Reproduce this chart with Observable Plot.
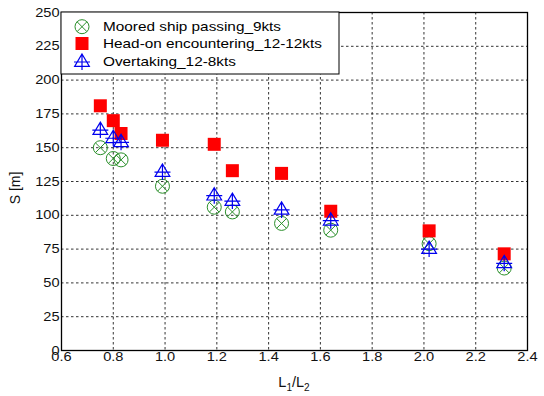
<!DOCTYPE html>
<html>
<head>
<meta charset="utf-8">
<script src="https://cdn.jsdelivr.net/npm/d3@7"></script>
<script src="https://cdn.jsdelivr.net/npm/@observablehq/plot@0.6"></script>
<style>
  body { margin: 0; background: #fff; }
  #chart { width: 544px; height: 396px; }
</style>
</head>
<body>
<div id="chart"></div>
<script>
// ---- data ----
const ratio = [0.75, 0.80, 0.83, 0.99, 1.19, 1.26, 1.45, 1.64, 2.02, 2.31];
const moored = [150, 142, 141, 121.5, 106, 102.5, 94, 89, 79, 61];
const headOn = [181, 170, 160.5, 155.5, 152.5, 133, 131, 103, 88.5, 71.5];
const overtaking = [163, 157, 154, 132, 114.5, 110.5, 104, 96, 75, 64.5];
const seriesNames = ["Moored ship passing_9kts", "Head-on encountering_12-12kts", "Overtaking_12-8kts"];
const xTicks = [0.6, 0.8, 1.0, 1.2, 1.4, 1.6, 1.8, 2.0, 2.2, 2.4];
const yTicks = [0, 25, 50, 75, 100, 125, 150, 175, 200, 225, 250];

// ---- styles ----
const GREEN = "#2a8f2a", RED = "#ff0000", BLUE = "#0000ee";
const FONT = "'Liberation Sans', Arial, sans-serif";
const STRETCH = 1.16;

const rows = (vals) => ratio.map((x, i) => ({x, y: vals[i]}));

// custom symbols (size = r*r*PI)
const circleX = {draw(c, size) {
  const r = Math.sqrt(size / Math.PI);
  c.moveTo(r, 0); c.arc(0, 0, r, 0, 2 * Math.PI);
  const d = r * Math.SQRT1_2;
  c.moveTo(-d, -d); c.lineTo(d, d);
  c.moveTo(-d, d); c.lineTo(d, -d);
}};
const squareSym = {draw(c, size) {
  const r = Math.sqrt(size / Math.PI);
  c.rect(-r, -r, 2 * r, 2 * r);
}};
const triPlus = {draw(c, size) {
  const r = Math.sqrt(size / Math.PI);
  c.moveTo(0, -r); c.lineTo(0.92 * r, 0.54 * r); c.lineTo(-0.92 * r, 0.54 * r); c.closePath();
  c.moveTo(0, -r); c.lineTo(0, r);
  c.moveTo(-r, 0); c.lineTo(r, 0);
}};

const series = [
  {name: seriesNames[0], vals: moored, sym: circleX, r: 7, fill: "none", stroke: GREEN, sw: 1},
  {name: seriesNames[1], vals: headOn, sym: squareSym, r: 6.5, fill: RED, stroke: "none", sw: 0},
  {name: seriesNames[2], vals: overtaking, sym: triPlus, r: 8, fill: "none", stroke: BLUE, sw: 1.2}
];

const ML = 61, MR = 17, MT = 12, MB = 46, W = 544, H = 396;

const plot = Plot.plot({
  width: W, height: H,
  marginLeft: ML, marginRight: MR, marginTop: MT, marginBottom: MB,
  style: {fontFamily: FONT, fontSize: "12.6px", color: "#111", background: "#fff"},
  x: {domain: [0.6, 2.4]},
  y: {domain: [0, 250]},
  marks: [
    Plot.gridX(xTicks, {stroke: "#000", strokeOpacity: 0.8, strokeWidth: 1, strokeDasharray: "2.5,2.5"}),
    Plot.gridY(yTicks, {stroke: "#000", strokeOpacity: 0.8, strokeWidth: 1, strokeDasharray: "2.5,2.5"}),
    Plot.axisX(xTicks, {tickSize: 0, tickPadding: 2, tickFormat: d => d.toFixed(1), label: null}),
    Plot.axisY(yTicks, {tickSize: 0, tickPadding: 2, label: null}),
    ...series.map(s => Plot.dot(rows(s.vals), {
      x: "x", y: "y", symbol: s.sym, r: s.r, fill: s.fill, stroke: s.stroke, strokeWidth: s.sw
    })),
    Plot.frame({stroke: "#000", strokeWidth: 1.3})
  ]
});

document.getElementById("chart").append(plot);
const svg = d3.select(plot);

// stretch tick labels horizontally around their anchor
svg.selectAll('g[aria-label="x-axis tick label"] text, g[aria-label="y-axis tick label"] text').each(function() {
  const t = this.getAttribute("transform") || "";
  const x = +this.getAttribute("x") || 0, y = +this.getAttribute("y") || 0;
  this.setAttribute("transform", `${t} translate(${x},${y}) scale(${STRETCH},1) translate(${-x},${-y})`);
});

// axis labels
svg.append("text")
  .attr("transform", `translate(15,${(MT + H - MB) / 2 + 7}) rotate(-90)`)
  .attr("text-anchor", "middle").attr("dy", "0.35em")
  .attr("font-family", FONT).attr("font-size", 14).attr("fill", "#111")
  .text("S [m]");

const xl = svg.append("text")
  .attr("x", (ML + W - MR) / 2).attr("y", 387)
  .attr("text-anchor", "middle")
  .attr("font-family", FONT).attr("font-size", 14.5).attr("fill", "#111");
xl.append("tspan").text("L");
xl.append("tspan").attr("font-size", 10).attr("dy", 4).text("1");
xl.append("tspan").attr("dy", -4).text("/L");
xl.append("tspan").attr("font-size", 10).attr("dy", 4).text("2");

// legend (inside plot, top-left)
const lg = svg.append("g").attr("text-anchor", "start");
lg.append("rect")
  .attr("x", ML).attr("y", MT).attr("width", 278).attr("height", 62)
  .attr("fill", "#fff").attr("stroke", "#000").attr("stroke-width", 1);
const rowY = [26.7, 43.5, 61];
const markerDY = [0, 0, 1];
series.forEach((s, i) => {
  lg.append("path")
    .attr("transform", `translate(82,${rowY[i] + markerDY[i]})`)
    .attr("d", d3.symbol(s.sym, s.r * s.r * Math.PI)())
    .attr("fill", s.fill).attr("stroke", s.stroke).attr("stroke-width", s.sw);
  lg.append("text")
    .attr("transform", `translate(103,${rowY[i]}) scale(1.18,1)`)
    .attr("text-anchor", "start")
    .attr("dy", "0.36em")
    .attr("font-family", FONT).attr("font-size", 13).attr("fill", "#000")
    .text(s.name);
});
</script>
</body>
</html>
